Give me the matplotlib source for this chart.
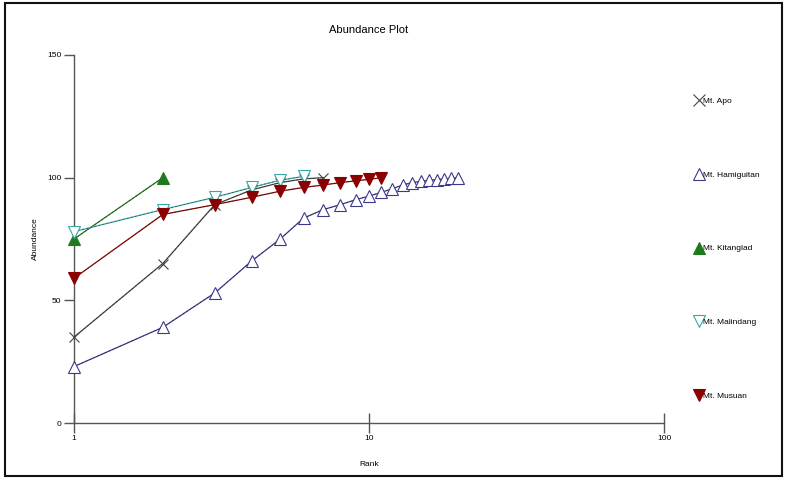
import matplotlib
matplotlib.use("Agg")
import matplotlib.pyplot as plt
from matplotlib.lines import Line2D
from matplotlib.patches import Rectangle

plt.rcParams['font.family'] = ['Liberation Sans Narrow', 'Liberation Sans', 'DejaVu Sans']

title = "Abundance Plot"
x_label = "Rank"
y_label = "Abundance"

series_names = ["Mt. Apo", "Mt. Hamiguitan", "Mt. Kitanglad", "Mt. Malindang", "Mt. Musuan"]

apo = [35, 65, 89, 95, 98, 99.5, 100]
hamiguitan = [23, 39, 53, 66, 75, 83.5, 87, 89, 91, 92.5, 94, 95.5, 97, 98, 98.5, 99, 99.2, 99.5, 99.7, 100]
kitanglad = [75, 100]
malindang = [78, 87, 92, 96, 99, 100.5]
musuan = [59, 85, 89, 92, 94.5, 96, 97, 98, 98.7, 99.3, 100]

data = [apo, hamiguitan, kitanglad, malindang, musuan]

colors = ["#444444", "#3a3a8c", "#1f7a1f", "#3aa6a6", "#8b0000"]
markers = ["x", "^", "^", "v", "v"]
filled = [True, False, True, False, True]

fig = plt.figure(figsize=(7.88, 4.82), dpi=100)
ax = fig.add_axes([74/788, 1-423/482, (664-74)/788, (423-55)/482])

handles = []
for name, vals, c, m, f in zip(series_names, data, colors, markers, filled):
    ranks = list(range(1, len(vals) + 1))
    mfc = c if f else "white"
    ax.plot(ranks, vals, color=c, lw=0.9, zorder=2, clip_on=False)
    ax.plot(ranks, vals, color="#222222", lw=0.5, ls=(0, (3, 3)), alpha=0.6, zorder=2, clip_on=False)
    ax.plot(ranks, vals, ls="none", marker=m, ms=8 if m != "x" else 7,
            mfc=mfc, mec=c, mew=0.8, zorder=3, clip_on=False)
    handles.append(Line2D([], [], ls="none", marker=m, ms=9,
                          mfc=mfc, mec=c, mew=0.8, label=name))

ax.set_xscale("log")
ax.set_xlim(1, 100)
ax.set_ylim(0, 150)
ax.set_xticks([1, 10, 100])
ax.set_xticklabels(["1", "10", "100"])
ax.minorticks_off()
ax.set_yticks([0, 50, 100, 150])
ax.set_yticklabels(["0", "50", "100", "150"])

for s in ["top", "right"]:
    ax.spines[s].set_visible(False)
for s in ["left", "bottom"]:
    ax.spines[s].set_color("#555555")
    ax.spines[s].set_linewidth(1.0)

ax.tick_params(axis="y", direction="out", length=7, width=1, color="#555555", labelsize=6, pad=2)
ax.tick_params(axis="x", direction="inout", length=14, width=1, color="#555555", labelsize=6, pad=2)
ax.patch.set_alpha(0)

ax.set_title(title, fontsize=8, pad=16)
ax.set_xlabel(x_label, fontsize=6, labelpad=13)
ax.set_ylabel(y_label, fontsize=6, labelpad=6)

leg = fig.legend(handles=handles, loc="upper left", bbox_to_anchor=(693/788, 1-94/482),
                 frameon=False, fontsize=6, labelspacing=7.9, handlelength=0.6,
                 handletextpad=0.15, borderaxespad=0)

fig.add_artist(Rectangle((5/788, 1-476/482), 777/788, 473/482, transform=fig.transFigure,
                         fill=False, ec="#111111", lw=1.5))

fig.savefig("out.png", dpi=100)
